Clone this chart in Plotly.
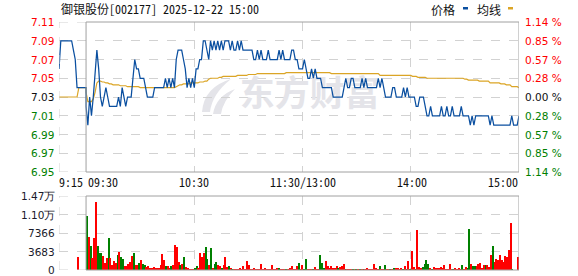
import plotly.graph_objects as go

# ---------------- data ----------------
title_text = "御银股份[002177] 2025-12-22 15:00"
pre_close = 7.03
price_ticks = [7.11, 7.09, 7.07, 7.05, 7.03, 7.01, 6.99, 6.97, 6.95]
vol_ticks = [0, 3683, 7366, 11049, 14732]
vol_labels = ["0", "3683", "7366", "1.10万", "1.47万"]
time_labels = ["9:15", "09:30", "10:30", "11:30/13:00", "14:00", "15:00"]
time_pos = [0, 15, 75, 135, 195, 255]          # minutes after 9:15

# call auction 9:15-9:30 (one value per minute)
pre_price = [7.06, 7.09, 7.09, 7.09, 7.09, 7.09, 7.09, 7.09, 7.08, 7.07,
             7.04, 7.04, 7.04, 7.04, 7.04, 7.04]
pre_avg = [7.03, 7.03, 7.03, 7.03, 7.03, 7.03, 7.03, 7.03, 7.03, 7.03,
           7.03, 7.04, 7.04, 7.04, 7.04, 7.04]
auction_vol = 2660

# continuous trading, one value per minute 9:30 .. 15:00 (241 points)
price = [
    7.02, 7.00, 7.03, 7.01, 7.03, 7.06, 7.08, 7.06, 7.03, 7.02,
    7.03, 7.04, 7.03, 7.02, 7.02, 7.02, 7.02, 7.02, 7.03, 7.02,
    7.04, 7.03, 7.02, 7.03, 7.03, 7.03, 7.05, 7.07, 7.06, 7.06,
    7.05, 7.05, 7.05, 7.04, 7.03, 7.03, 7.03, 7.03, 7.04, 7.04,
    7.04, 7.04, 7.04, 7.04, 7.05, 7.04, 7.05, 7.04, 7.05, 7.04,
    7.07, 7.08, 7.08, 7.08, 7.07, 7.06, 7.04, 7.05, 7.04, 7.05,
    7.04, 7.06, 7.06, 7.07, 7.07, 7.09, 7.09, 7.08, 7.07, 7.09,
    7.08, 7.09, 7.08, 7.09, 7.08, 7.09, 7.08, 7.09, 7.09, 7.09,
    7.08, 7.09, 7.08, 7.08, 7.09, 7.08, 7.09, 7.08, 7.08, 7.08,
    7.08, 7.08, 7.08, 7.07, 7.07, 7.08, 7.07, 7.08, 7.07, 7.07,
    7.07, 7.08, 7.07, 7.07, 7.07, 7.07, 7.07, 7.08, 7.07, 7.08,
    7.07, 7.07, 7.07, 7.07, 7.08, 7.08, 7.07, 7.07, 7.06, 7.06,
    7.06, 7.07, 7.06, 7.05, 7.05, 7.06, 7.05, 7.06, 7.05, 7.05,
    7.05, 7.04, 7.04, 7.04, 7.04, 7.04, 7.04, 7.03, 7.03, 7.03,
    7.03, 7.03, 7.03, 7.04, 7.05, 7.04, 7.04, 7.05, 7.05, 7.04,
    7.04, 7.04, 7.04, 7.05, 7.04, 7.05, 7.04, 7.04, 7.04, 7.04,
    7.04, 7.04, 7.05, 7.04, 7.05, 7.04, 7.03, 7.03, 7.03, 7.03,
    7.04, 7.04, 7.03, 7.03, 7.03, 7.03, 7.04, 7.03, 7.04, 7.03,
    7.03, 7.03, 7.03, 7.02, 7.02, 7.03, 7.03, 7.03, 7.02, 7.01,
    7.01, 7.02, 7.01, 7.01, 7.01, 7.01, 7.01, 7.02, 7.01, 7.01,
    7.02, 7.01, 7.01, 7.02, 7.01, 7.01, 7.01, 7.01, 7.02, 7.01,
    7.01, 7.01, 7.01, 7.00, 7.01, 7.00, 7.01, 7.01, 7.01, 7.01,
    7.01, 7.01, 7.01, 7.01, 7.00, 7.01, 7.00, 7.00, 7.00, 7.00,
    7.00, 7.00, 7.00, 7.00, 7.00, 7.00, 7.01, 7.00, 7.00, 7.00,
    7.01,
]

avg = [
    7.035, 7.025, 7.025, 7.025, 7.028, 7.035, 7.045, 7.047, 7.047, 7.046,
    7.046, 7.045, 7.045, 7.044, 7.044, 7.043, 7.043, 7.043, 7.043, 7.042,
    7.042, 7.042, 7.042, 7.041, 7.041, 7.041, 7.041, 7.041, 7.041, 7.041,
    7.040, 7.040, 7.040, 7.040, 7.040, 7.040, 7.040, 7.040, 7.040, 7.040,
    7.040, 7.040, 7.040, 7.040, 7.040, 7.040, 7.040, 7.040, 7.040, 7.040,
    7.041, 7.042, 7.043, 7.043, 7.044, 7.044, 7.044, 7.044, 7.045, 7.045,
    7.045, 7.045, 7.045, 7.046, 7.046, 7.046, 7.047, 7.047, 7.049, 7.050,
    7.050, 7.050, 7.050, 7.050, 7.051, 7.051, 7.052, 7.052, 7.052, 7.052,
    7.052, 7.052, 7.052, 7.052, 7.053, 7.053, 7.053, 7.053, 7.053, 7.053,
    7.054, 7.054, 7.054, 7.054, 7.054, 7.055, 7.055, 7.055, 7.055, 7.055,
    7.055, 7.055, 7.055, 7.055, 7.055, 7.055, 7.055, 7.055, 7.055, 7.055,
    7.055, 7.056, 7.056, 7.056, 7.056, 7.056, 7.056, 7.056, 7.056, 7.056,
    7.056, 7.056, 7.056, 7.056, 7.056, 7.056, 7.056, 7.056, 7.056, 7.056,
    7.056, 7.056, 7.056, 7.056, 7.056, 7.056, 7.055, 7.055, 7.055, 7.055,
    7.055, 7.055, 7.055, 7.055, 7.055, 7.055, 7.055, 7.055, 7.055, 7.055,
    7.055, 7.055, 7.055, 7.055, 7.055, 7.055, 7.055, 7.055, 7.055, 7.055,
    7.055, 7.055, 7.055, 7.053, 7.053, 7.053, 7.053, 7.053, 7.053, 7.053,
    7.053, 7.053, 7.053, 7.053, 7.053, 7.053, 7.053, 7.053, 7.053, 7.053,
    7.053, 7.052, 7.052, 7.052, 7.051, 7.051, 7.051, 7.051, 7.051, 7.050,
    7.050, 7.050, 7.050, 7.050, 7.050, 7.050, 7.050, 7.050, 7.050, 7.050,
    7.050, 7.050, 7.050, 7.050, 7.050, 7.050, 7.050, 7.050, 7.050, 7.050,
    7.049, 7.049, 7.048, 7.048, 7.048, 7.048, 7.048, 7.048, 7.047, 7.047,
    7.047, 7.047, 7.047, 7.047, 7.045, 7.045, 7.045, 7.045, 7.045, 7.045,
    7.044, 7.044, 7.044, 7.043, 7.043, 7.043, 7.041, 7.041, 7.041, 7.041,
    7.040,
]

volume = [
    10760, 6510, 4780, 2390, 6370, 13610, 4780, 3390, 3390, 2790,
    1390, 2460, 6370, 2390, 1000, 1790, 1330, 2990, 3520, 2590,
    2190, 860, 860, 1200, 1530, 2790, 3390, 1000, 1000, 1390,
    1990, 1260, 1000, 530, 860, 330, 460, 660, 460, 330,
    330, 1000, 3190, 1990, 860, 800, 330, 730, 1000, 4910,
    4580, 1530, 1000, 1260, 2590, 600, 330, 200, 130, 200,
    330, 800, 330, 3390, 2520, 3390, 4580, 2260, 1000, 4380,
    460, 1260, 1530, 1000, 730, 330, 1000, 2590, 660, 860,
    330, 200, 200, 130, 200, 330, 200, 800, 200, 1790,
    1000, 200, 200, 330, 200, 200, 200, 1130, 200, 330,
    200, 200, 200, 1000, 200, 200, 330, 330, 200, 200,
    200, 130, 200, 460, 800, 200, 200, 730, 1330, 200,
    1000, 200, 2190, 200, 200, 200, 200, 600, 200, 200,
    2990, 1390, 330, 1790, 800, 460, 800, 460, 330, 800,
    330, 530, 800, 1200, 200, 200, 200, 200, 200, 200,
    200, 200, 200, 200, 200, 200, 400, 200, 200, 200,
    1200, 330, 200, 800, 200, 200, 1000, 200, 200, 200,
    200, 400, 460, 330, 200, 330, 200, 860, 200, 1790,
    200, 3780, 600, 200, 7970, 600, 460, 600, 1130, 1990,
    1200, 460, 200, 600, 460, 460, 400, 600, 460, 1000,
    200, 200, 1200, 200, 200, 400, 200, 460, 200, 1000,
    200, 530, 330, 8170, 1200, 800, 800, 800, 1130, 1390,
    330, 1000, 1000, 1000, 600, 2990, 4780, 1530, 2190, 2060,
    2990, 1930, 1530, 2790, 2660, 3980, 9360, 200, 0, 0,
    2590,
]

# r = red (up) bar, g = green (down) bar
vol_dir = ("grgrrrgggr" "rrgrrrrgrg" "grrrrrgrrg" "rggrrrrrrr" "rrrrgrrgrr"
           "rrgrgrrrrr" "ggrrrrggrg" "rggrrgrrrg" "rgrrrrrrrr" "rrrrrrrrrr"
           "rrrrrrrgrr" "rgrrrrrrgr" "rggrrrgrrr" "gggrrrrrrr" "grrrgrrrgr"
           "grgrgrrrrr" "rrrgrrgrrg" "rgrrrrgrgr" "grrgrrrggg" "grgrrrrrrr"
           "rrrrgrrrrg" "rrggrggrrr" "rrgrrrgrrr" "rrrrrrrgrr" "r")

# ---------------- styling ----------------
RED, GREEN, BLACK = "#ff0000", "#008000", "#101010"
BLUE, GOLD = "#0a4fa0", "#dba526"
GRID = "#d2d2d2"
BORDER = "#a0a0a0"
NUM_FONT = "DejaVu Sans"
NUM_SIZE = 10.5
CJK_FONT = "Noto Sans Mono CJK SC, Noto Sans CJK SC, Liberation Mono, monospace"

L, R, T, B = 59, 59, 22, 6
W, H = 578, 276
PW, PH = W - L - R, H - T - B


def px(x):
    return (x - L) / PW


def py(y):
    return (H - B - y) / PH


def col_for(p):
    d = round(p - pre_close, 4)
    return RED if d > 0 else (GREEN if d < 0 else BLACK)


n_pre = len(pre_price)
x_pre = list(range(n_pre))
x_trade = [n_pre - 1 + m for m in range(len(price))]
bar_x = [15.6 + 0.995 * m for m in range(len(volume))]
bar_colors = [RED if c == "r" else GREEN for c in vol_dir]

fig = go.Figure()

# watermark (drawn first so it stays under the lines)
fig.add_trace(go.Scatter(
    x=[139], y=[7.030], mode="text", text=["<b>东方财富</b>"],
    textfont=dict(size=35, color="#e4e4e9", family="Noto Sans CJK SC"),
    hoverinfo="skip", showlegend=False, xaxis="x", yaxis="y"))

fig.add_trace(go.Scatter(
    x=x_pre + x_trade, y=pre_avg + avg, mode="lines",
    line=dict(color=GOLD, width=1.2), showlegend=False, xaxis="x", yaxis="y"))
fig.add_trace(go.Scatter(
    x=x_pre + x_trade, y=pre_price + price, mode="lines",
    line=dict(color=BLUE, width=1.25), showlegend=False, xaxis="x", yaxis="y"))

fig.add_trace(go.Bar(
    x=[10.6] + bar_x, y=[auction_vol] + volume,
    marker=dict(color=[RED] + bar_colors, line=dict(width=0)),
    width=0.6, showlegend=False, xaxis="x2", yaxis="y3"))

p_bot = py(172)
v_top = py(196)

xcommon = dict(range=[0, 255], tickvals=[0, 75, 135, 195], showticklabels=False,
               showgrid=True, gridcolor=GRID, griddash="dash", gridwidth=1,
               zeroline=False, showline=False, ticks="", fixedrange=True)

fig.update_layout(
    width=W, height=H,
    margin=dict(l=L, r=R, t=T, b=B, pad=0),
    paper_bgcolor="white", plot_bgcolor="white",
    bargap=0,
    xaxis=dict(domain=[0, 1], anchor="y", **xcommon),
    xaxis2=dict(domain=[0, 1], anchor="y3", **xcommon),
    yaxis=dict(domain=[p_bot, 1.0], range=[price_ticks[-1], price_ticks[0]],
               tickvals=price_ticks, showticklabels=False,
               showgrid=True, gridcolor=GRID, griddash="dash", zeroline=False,
               showline=False, ticks="", anchor="x"),
    yaxis3=dict(domain=[0, v_top], range=[0, vol_ticks[-1]], tickvals=vol_ticks,
                showticklabels=False,
                showgrid=True, gridcolor=GRID, griddash="dash", zeroline=False,
                showline=False, ticks="", anchor="x2"),
    showlegend=False,
)

dash_line = dict(color=GRID, width=1, dash="dash")
shapes = [
    # dashed edges of the call-auction area (grid lines at the range ends)
    dict(type="line", xref="x", yref="y domain", x0=0, x1=0, y0=0, y1=1, line=dash_line),
    dict(type="line", xref="x", yref="y", x0=0, x1=15, y0=price_ticks[0], y1=price_ticks[0], line=dash_line),
    dict(type="line", xref="x", yref="y", x0=0, x1=15, y0=price_ticks[-1], y1=price_ticks[-1], line=dash_line),
    dict(type="line", xref="x2", yref="y3 domain", x0=0, x1=0, y0=0, y1=1, line=dash_line),
    dict(type="line", xref="x2", yref="y3", x0=0, x1=15, y0=vol_ticks[-1], y1=vol_ticks[-1], line=dash_line),
    dict(type="line", xref="x2", yref="y3", x0=0, x1=15, y0=0, y1=0, line=dash_line),
    # solid frame of the trading session
    dict(type="rect", xref="x", yref="y domain", x0=15, x1=255, y0=0, y1=1,
         line=dict(color=BORDER, width=1)),
    dict(type="rect", xref="x2", yref="y3 domain", x0=15, x1=255, y0=0, y1=1,
         line=dict(color=BORDER, width=1)),
    # legend swatches
    dict(type="rect", xref="paper", yref="paper", x0=px(463), x1=px(468),
         y0=py(9.5), y1=py(7), fillcolor=BLUE, line=dict(width=0)),
    dict(type="rect", xref="paper", yref="paper", x0=px(508), x1=px(513),
         y0=py(9.5), y1=py(7), fillcolor=GOLD, line=dict(width=0)),
    # watermark swoosh
    dict(type="path", xref="paper", yref="paper", layer="below",
         path=(f"M {px(202)},{py(112)} Q {px(204)},{py(87)} {px(231)},{py(79)} "
               f"Q {px(212)},{py(94)} {px(210)},{py(112)} Z"),
         fillcolor="#e4e4e9", line=dict(width=0)),
    dict(type="path", xref="paper", yref="paper", layer="below",
         path=(f"M {px(213)},{py(114)} Q {px(216)},{py(96)} {px(235)},{py(89)} "
               f"Q {px(223)},{py(101)} {px(221)},{py(114)} Z"),
         fillcolor="#e4e4e9", line=dict(width=0)),
]
fig.update_layout(shapes=shapes)

txt_font = dict(family=CJK_FONT, size=12, color="#111111")
ann = [
    dict(text=title_text, xref="paper", yref="paper", x=px(59), y=py(8.5),
         xanchor="left", yanchor="middle", showarrow=False, font=txt_font),
    dict(text="价格", xref="paper", yref="paper", x=px(443), y=py(9.5),
         xanchor="center", yanchor="middle", showarrow=False, font=txt_font),
    dict(text="均线", xref="paper", yref="paper", x=px(489), y=py(9.5),
         xanchor="center", yanchor="middle", showarrow=False, font=txt_font),
]

# price tick labels (left) and change-percent labels (right), coloured by side of pre-close
for p in price_ticks:
    c = col_for(p)
    pct = abs((p - pre_close) / pre_close * 100)
    ann.append(dict(text=f"{p:.2f}", xref="paper", yref="y", x=0, y=p,
                    xanchor="right", yanchor="middle", xshift=-3, showarrow=False,
                    font=dict(family=NUM_FONT, size=NUM_SIZE, color=c)))
    ann.append(dict(text=f"{pct:.2f} %", xref="paper", yref="y", x=1, y=p,
                    xanchor="left", yanchor="middle", xshift=4, showarrow=False,
                    font=dict(family=NUM_FONT, size=NUM_SIZE, color=c)))

# volume tick labels
for v, lab in zip(vol_ticks, vol_labels):
    ann.append(dict(text=lab, xref="paper", yref="y3", x=0, y=v,
                    xanchor="right", yanchor="middle", xshift=-2, showarrow=False,
                    font=dict(family=NUM_FONT, size=NUM_SIZE, color="#1a1a2a")))

anchors = ["left", "left", "center", "center", "center", "right"]
shifts = [-2, 0, 0, 0, 1, 1]
for lab, pos, anc, sh in zip(time_labels, time_pos, anchors, shifts):
    ann.append(dict(text=lab, xref="x", yref="paper", x=pos, y=py(181.5),
                    xanchor=anc, yanchor="middle", xshift=sh, showarrow=False,
                    font=txt_font))
fig.update_layout(annotations=ann)

fig.write_html("out.html")
